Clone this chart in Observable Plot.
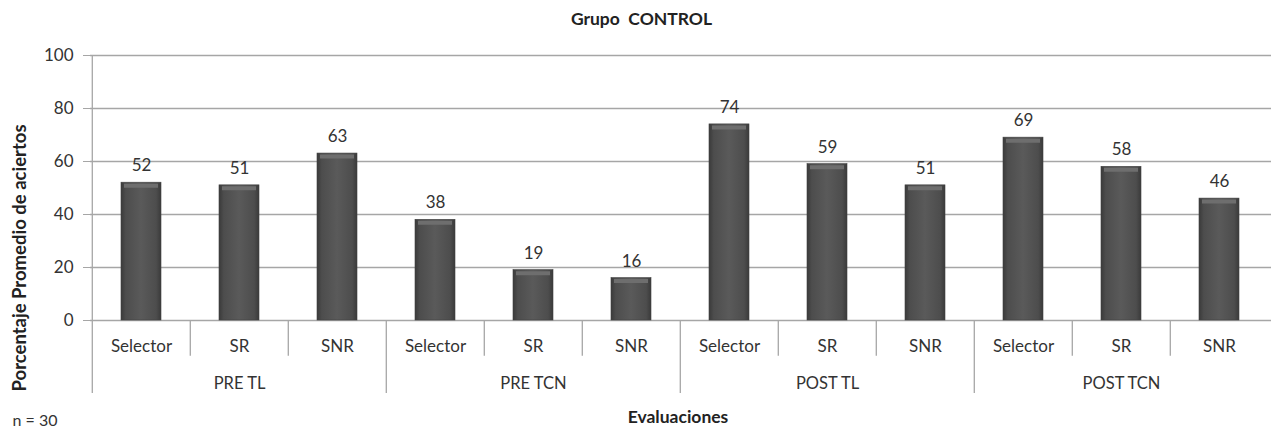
<!DOCTYPE html>
<html>
<head>
<meta charset="utf-8">
<script src="https://cdn.jsdelivr.net/npm/d3@7"></script>
<script src="https://cdn.jsdelivr.net/npm/@observablehq/plot@0.6"></script>
<style>
  html, body { margin: 0; padding: 0; background: #ffffff; }
  #chart svg { display: block; }
</style>
</head>
<body>
<div id="chart"></div>
<script>
const groups = ["PRE TL", "PRE TCN", "POST TL", "POST TCN"];
const measures = ["Selector", "SR", "SNR"];
const preTL = [52, 51, 63];
const preTCN = [38, 19, 16];
const postTL = [74, 59, 51];
const postTCN = [69, 58, 46];
const yTicks = [0, 20, 40, 60, 80, 100];
const title = "Grupo  CONTROL";
const yLabel = "Porcentaje Promedio de aciertos";
const xLabel = "Evaluaciones";
const note = "n = 30";

const series = [preTL, preTCN, postTL, postTCN];
const data = groups.flatMap((g, gi) =>
  measures.map((m, mi) => ({ group: g, measure: m, key: g + "|" + m, value: series[gi][mi], mi }))
);

const W = 1271, H = 428, ML = 90, MR = 0, MT = 55, MB = 108;
const step = (W - ML - MR) / data.length;
const font = "Lato, 'Open Sans', sans-serif";
const textColor = "#333";
const lineColor = "#a6a6a6";

const chart = Plot.plot({
  width: W,
  height: H,
  marginLeft: ML,
  marginRight: MR,
  marginTop: MT,
  marginBottom: MB,
  style: { fontFamily: font, background: "#ffffff", color: textColor, overflow: "visible" },
  x: { type: "band", domain: data.map(d => d.key), paddingInner: 0.59, paddingOuter: 0.295, axis: null },
  y: { domain: [0, 100], axis: null },
  marks: [
    Plot.gridY(yTicks, { stroke: lineColor, strokeOpacity: 1, strokeWidth: 1.3 }),
    Plot.axisY(yTicks, { tickSize: 7, tickPadding: 10, fontSize: 17, stroke: lineColor, fill: textColor, label: null }),
    // left axis line, extending down through the category area
    Plot.ruleX([data[0].key], { y1: 100, y2: -27.5, dx: -step / 2, stroke: lineColor, strokeWidth: 1.3 }),
    // bars
    Plot.barY(data, { x: "key", y: "value", fill: "url(#barGrad)", stroke: "#404040", strokeWidth: 0.6 }),
    Plot.tickY(data, { x: "key", y: "value", dy: 3, stroke: "#6e6e6e", strokeWidth: 4, insetLeft: 3, insetRight: 3 }),
    // value labels
    Plot.text(data, { x: "key", y: "value", text: d => String(d.value), dy: -17, fontSize: 17, fill: textColor }),
    // category separators
    Plot.ruleX(data.filter(d => d.mi > 0), { x: "key", y1: 0, y2: -13.5, dx: -step / 2, stroke: lineColor, strokeWidth: 1.3 }),
    Plot.ruleX(data.filter(d => d.mi === 0 && d.group !== groups[0]), { x: "key", y1: 0, y2: -27.5, dx: -step / 2, stroke: lineColor, strokeWidth: 1.3 }),
    // category labels
    Plot.text(data, { x: "key", y: -9.8, text: "measure", fontSize: 17, fill: textColor }),
    // group labels
    Plot.text(data.filter(d => d.mi === 1), { x: "key", y: -23.8, text: "group", fontSize: 16.5, fill: textColor }),
    // title
    Plot.text([title], { frameAnchor: "top", lineAnchor: "middle", dx: -39.5, dy: -36, fontSize: 17.5, fontWeight: "bold", fill: "#222" }),
    // y label
    Plot.text([yLabel], { frameAnchor: "left", textAnchor: "middle", lineAnchor: "middle", dx: -70, dy: 70, rotate: -90, fontSize: 18.5, fontWeight: "bold", fill: "#222" }),
    // x label
    Plot.text([xLabel], { frameAnchor: "bottom", lineAnchor: "middle", dx: -3, dy: 97, fontSize: 17.5, fontWeight: "bold", fill: "#222" }),
    // n note
    Plot.text([note], { frameAnchor: "bottom-left", lineAnchor: "middle", textAnchor: "start", dx: -78, dy: 100, fontSize: 16, fill: textColor })
  ]
});

// gradient definition for cylindrical-looking bars
const svgNS = "http://www.w3.org/2000/svg";
const defs = document.createElementNS(svgNS, "defs");
defs.innerHTML = `
  <linearGradient id="barGrad" x1="0" x2="1" y1="0" y2="0">
    <stop offset="0" stop-color="#3a3a3a"/>
    <stop offset="0.12" stop-color="#4d4d4d"/>
    <stop offset="0.5" stop-color="#5a5a5a"/>
    <stop offset="0.88" stop-color="#4d4d4d"/>
    <stop offset="1" stop-color="#3a3a3a"/>
  </linearGradient>`;
chart.insertBefore(defs, chart.firstChild);

document.getElementById("chart").appendChild(chart);
</script>
</body>
</html>
